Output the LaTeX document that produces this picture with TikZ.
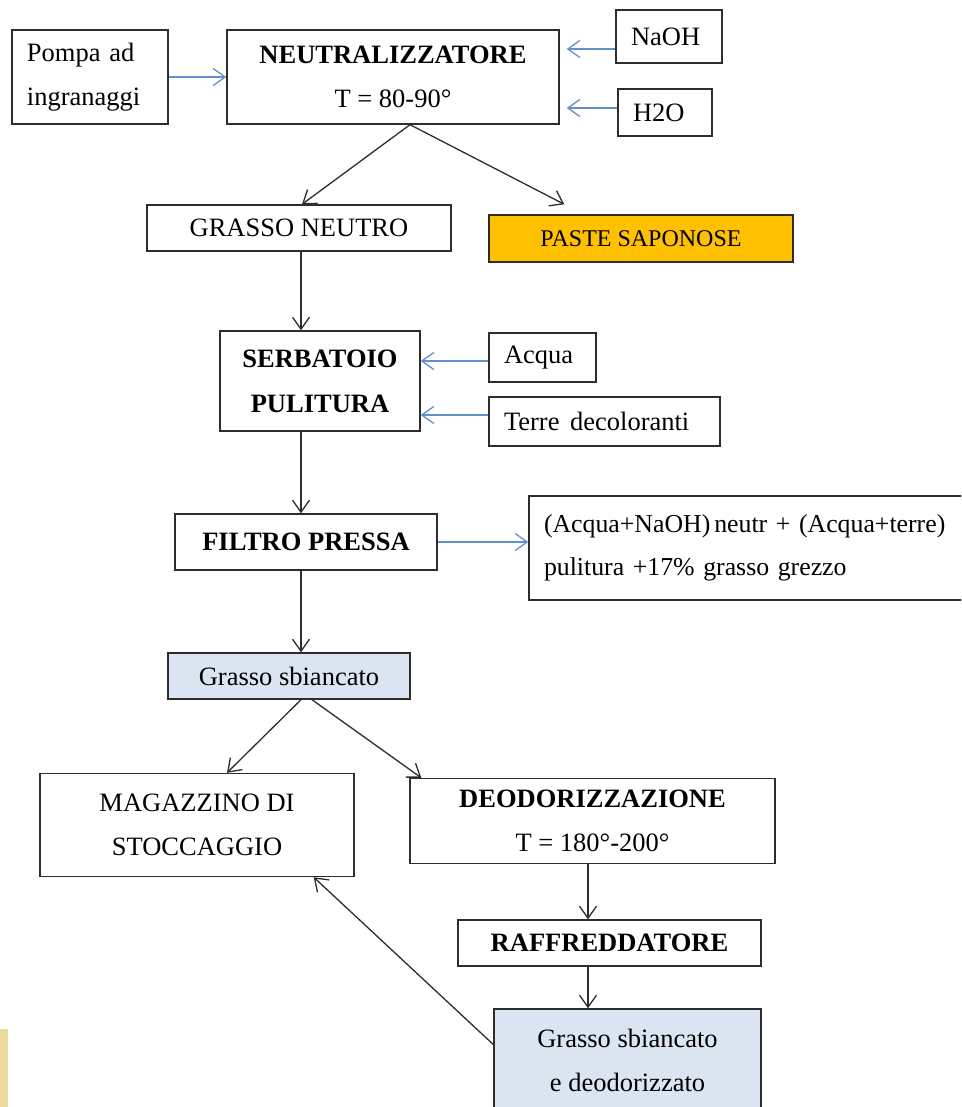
\documentclass[tikz,border=0pt]{standalone}
\usepackage{fontspec}
\setmainfont{Liberation Serif}
\usetikzlibrary{arrows.meta,calc}
\definecolor{conblue}{RGB}{100,143,206}
\definecolor{boxline}{RGB}{45,45,45}
\definecolor{lightfill}{RGB}{219,228,241}
\definecolor{pasteorange}{RGB}{255,192,0}
\definecolor{sidebar}{RGB}{236,218,160}
\begin{document}
\begin{tikzpicture}[x=1pt,y=-1pt,
  box/.style={draw=boxline, line width=1.4pt, rectangle, inner sep=0pt, align=center,
    font=\fontsize{26.5}{44}\selectfont},
  arr/.style={line width=1.3pt, draw=boxline, -{Straight Barb[length=12pt,width=17pt,line width=1.3pt]}},
  barr/.style={arr, draw=conblue}]
\clip (0,0) rectangle (961,1107);
\fill[sidebar] (0,1029) rectangle (8,1107);

% top row
\node[box, minimum width=156pt, minimum height=94pt, text width=126pt, align=left] (pompa) at (90,77) {Pompa ad\\ingranaggi};
\node[box, minimum width=332pt, minimum height=94pt] (neut) at (393,77) {\textbf{NEUTRALIZZATORE}\\T = 80-90°};
\node[box, minimum width=106pt, minimum height=53pt, text width=76pt, align=left] (naoh) at (669,36.5) {NaOH};
\node[box, minimum width=94pt, minimum height=47pt, text width=64pt, align=left] (h2o) at (665,112.5) {H2O};

\node[box, minimum width=304pt, minimum height=46pt] (gneutro) at (299,228) {GRASSO NEUTRO};
\node[box, fill=pasteorange, minimum width=304pt, minimum height=47pt, font=\fontsize{24}{30}\selectfont] (paste) at (641,238.5) {PASTE SAPONOSE};

\node[box, minimum width=200pt, minimum height=100pt, font=\fontsize{26.5}{45}\bfseries] (serb) at (320,381) {SERBATOIO\\PULITURA};
\node[box, minimum width=107pt, minimum height=49pt, text width=77pt, align=left] (acqua) at (542.5,357.5) {Acqua};
\node[box, minimum width=231pt, minimum height=49pt, text width=201pt, align=left] (terre) at (604.5,421.5) {Terre\hspace{0.4em}decoloranti};

\node[box, minimum width=262pt, minimum height=56pt, font=\fontsize{26.5}{44}\bfseries] (filtro) at (306,542) {FILTRO PRESSA};
\node[box, minimum width=436pt, minimum height=104pt, text width=406pt, align=left, font=\fontsize{25.8}{43}\selectfont] (big) at (747,548) {\mbox{(Acqua+NaOH)\hspace{0.15em}neutr + (Acqua+terre)}\\\mbox{pulitura +17\% grasso grezzo}};

\node[box, fill=lightfill, minimum width=242pt, minimum height=46pt] (gsb) at (289,676) {Grasso sbiancato};

\node[box, minimum width=314pt, minimum height=103pt] (mag) at (197,825) {MAGAZZINO DI\\STOCCAGGIO};
\node[box, minimum width=365pt, minimum height=85pt] (deo) at (592.5,821) {\textbf{DEODORIZZAZIONE}\\T = 180°-200°};
\node[box, minimum width=303pt, minimum height=46pt, font=\fontsize{26.5}{44}\bfseries] (raff) at (609.5,943) {RAFFREDDATORE};
\node[box, fill=lightfill, minimum width=267pt, minimum height=102pt] (gsbd) at (627.5,1060) {Grasso sbiancato\\e deodorizzato};

% helper coordinates
\coordinate (naohout) at ([yshift=-12.5pt]naoh.west);
\coordinate (h2oout) at ([yshift=4.5pt]h2o.west);
\coordinate (acquaout) at ([yshift=-3.5pt]acqua.west);
\coordinate (terreout) at ([yshift=6.5pt]terre.west);
\coordinate (serbout) at ([xshift=-19pt]serb.south);
\coordinate (filtroout) at ([xshift=-5pt]filtro.south);
\coordinate (deoout) at ([xshift=-4.5pt]deo.south);
\coordinate (raffout) at ([xshift=-21.5pt]raff.south);
\coordinate (gsbdout) at ([yshift=15.5pt]gsbd.west);

% blue connectors
\draw[barr] (pompa.east) -- (pompa.east -| neut.west);
\draw[barr, shorten >=7pt] (naohout) -- (naohout -| neut.east);
\draw[barr, shorten >=7pt] (h2oout) -- (h2oout -| neut.east);
\draw[barr] (acquaout) -- (acquaout -| serb.east);
\draw[barr] (terreout) -- (terreout -| serb.east);
\draw[barr] (filtro.east) -- (filtro.east -| big.west);

% black connectors
\draw[arr] ([xshift=17pt]neut.south) -- ([xshift=3pt]gneutro.north);
\draw[arr] ([xshift=17pt]neut.south) -- ([shift={(76pt,10pt)}]paste.north west);
\draw[arr] ([xshift=2pt]gneutro.south) -- ([xshift=2pt]gneutro.south |- serb.north);
\draw[arr] (serbout) -- (serbout |- filtro.north);
\draw[arr] (filtroout) -- (filtroout |- gsb.north);
\draw[arr] ([xshift=12pt]gsb.south) -- ([xshift=30pt]mag.north);
\draw[arr] ([xshift=23pt]gsb.south) -- ([xshift=12pt]deo.north west);
\draw[arr] (deoout) -- (deoout |- raff.north);
\draw[arr] (raffout) -- (raffout |- gsbd.north);
\draw[arr] (gsbdout) -- ([xshift=-41pt]mag.south east);
\end{tikzpicture}
\end{document}
